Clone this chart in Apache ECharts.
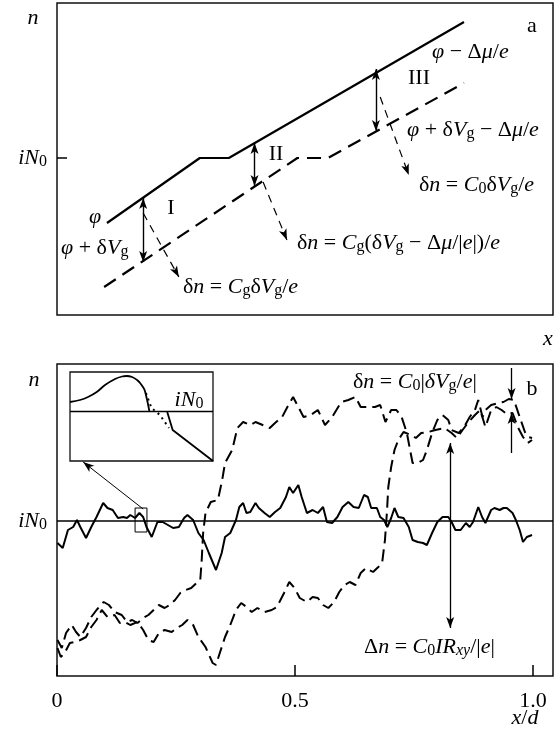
<!DOCTYPE html>
<html><head><meta charset="utf-8">
<script src="https://cdn.jsdelivr.net/npm/echarts@6/dist/echarts.min.js"></script>
<style>html,body{margin:0;padding:0;background:#fff}#c{width:560px;height:731px}</style>
</head><body><div id="c"></div>
<script>
const X_MAX = 1.042;
const IN0 = 0;
// ---------- panel a ----------
const A_SOLID_X = [0.105, 0.300, 0.361, 0.855];
const A_SOLID_Y = [-65, 0, 0, 136];
const A_DASH_X = [0.099, 0.505, 0.569, 0.855];
const A_DASH_Y = [-129, 0, 0, 75];
const A_ARROW_X = [0.181, 0.415, 0.670];
const A_ARROW_TOP = [-40, 15, 89];
const A_ARROW_BOT = [-104, -28, 27];
const A_LEAD_X0 = [0.181, 0.433, 0.679];
const A_LEAD_Y0 = [-55, -24, 61];
const A_LEAD_X1 = [0.256, 0.483, 0.739];
const A_LEAD_Y1 = [-119, -82, -17];
// ---------- panel b ----------
const TICK_VALUES = [0, 0.5, 1.0];
const TICK_LABELS = ['0', '0.5', '1.0'];
const B_SOLID_X = [0.001,0.012,0.023,0.034,0.042,0.049,0.061,0.072,0.083,0.097,
0.106,0.117,0.128,0.139,0.147,0.154,0.164,0.173,0.181,0.188,
0.199,0.211,0.222,0.233,0.244,0.256,0.267,0.274,0.286,0.297,
0.308,0.319,0.334,0.346,0.353,0.364,0.376,0.383,0.391,0.398,
0.406,0.417,0.424,0.436,0.447,0.458,0.469,0.481,0.488,0.496,
0.507,0.514,0.525,0.537,0.548,0.559,0.567,0.578,0.589,0.600,
0.612,0.623,0.634,0.645,0.653,0.660,0.672,0.679,0.687,0.694,
0.702,0.709,0.717,0.728,0.739,0.747,0.758,0.769,0.777,0.788,
0.799,0.810,0.822,0.829,0.837,0.848,0.859,0.867,0.874,0.885,
0.893,0.900,0.912,0.919,0.930,0.938,0.945,0.957,0.964,0.972,
0.979,0.987,0.998];
const B_SOLID_Y = [-22,-27,-9,-6,1,-6,-17,-6,4,18,
13,11,3,4,3,6,3,8,4,-6,
-16,-1,-1,-4,-7,-6,3,6,1,-12,
-19,-32,-49,-32,-16,-12,1,14,18,8,
9,18,13,8,4,9,13,24,34,28,
36,24,8,11,8,14,-1,-2,4,14,
19,14,13,26,24,13,13,4,1,-6,
3,13,4,3,-6,-19,-21,-22,-24,-12,
-1,4,4,-1,-9,-9,-2,-6,-1,14,
4,-2,11,13,11,13,13,8,1,-9,
-21,-16,-14];
const B_UP_X = [0.001,0.010,0.019,0.031,0.040,0.049,0.061,0.072,0.083,0.098,
0.109,0.121,0.136,0.147,0.158,0.169,0.181,0.192,0.203,0.214,
0.226,0.237,0.248,0.259,0.271,0.282,0.293,0.301,0.304,0.307,
0.312,0.323,0.338,0.347,0.353,0.368,0.379,0.391,0.406,0.417,
0.432,0.447,0.458,0.473,0.484,0.496,0.507,0.518,0.533,0.548,
0.563,0.578,0.597,0.612,0.627,0.638,0.653,0.668,0.679,0.690,
0.702,0.713,0.724,0.735,0.743,0.747,0.758,0.769,0.777,0.788,
0.799,0.810,0.822,0.829,0.844,0.855,0.867,0.878,0.885,0.894,
0.900,0.912,0.927,0.938,0.949,0.960,0.972,0.983,0.990,0.998];
const B_UP_Y = [-119,-127,-112,-104,-111,-116,-107,-96,-89,-81,
-84,-91,-94,-101,-99,-102,-97,-94,-89,-84,
-87,-84,-79,-72,-69,-67,-62,-59,-39,-12,
8,19,21,41,58,71,93,99,96,99,
96,93,98,104,114,124,114,104,106,111,
96,104,119,121,124,114,114,114,116,99,
111,111,104,88,68,58,58,61,71,88,
101,106,101,91,88,94,104,111,121,104,
111,116,118,119,122,121,104,89,84,83];
const B_LOW_X = [0.001,0.008,0.016,0.027,0.038,0.049,0.061,0.072,0.083,0.094,
0.106,0.121,0.132,0.143,0.154,0.169,0.181,0.192,0.203,0.214,
0.226,0.241,0.252,0.263,0.274,0.286,0.297,0.312,0.327,0.334,
0.342,0.353,0.364,0.376,0.387,0.398,0.409,0.421,0.436,0.451,
0.462,0.477,0.488,0.499,0.510,0.525,0.537,0.548,0.559,0.570,
0.582,0.593,0.604,0.615,0.627,0.638,0.649,0.664,0.675,0.683,
0.689,0.693,0.696,0.702,0.709,0.717,0.728,0.743,0.754,0.765,
0.780,0.795,0.814,0.829,0.840,0.852,0.863,0.878,0.889,0.900,
0.912,0.923,0.934,0.945,0.957,0.968,0.979,0.989,0.998];
const B_LOW_Y = [-127,-136,-132,-122,-121,-119,-116,-106,-99,-89,
-96,-94,-102,-101,-104,-101,-109,-119,-121,-112,
-109,-111,-107,-104,-99,-104,-116,-126,-142,-144,
-132,-116,-104,-89,-82,-86,-91,-87,-91,-89,
-86,-72,-61,-67,-77,-81,-76,-77,-84,-87,
-81,-71,-64,-61,-64,-52,-47,-51,-46,-42,
-19,8,34,54,71,81,89,86,83,88,
89,91,93,88,83,91,98,106,111,94,
111,114,111,107,108,94,84,78,81];
// arrows in panel b
const DN_X = 0.826, DN_TOP = 78, DN_BOT = -107;          // Delta n
const dn_X = 0.955, dn_TOP = [153, 122], dn_BOT = [68, 108]; // delta n
const ZOOM_BOX_X = [0.164, 0.189], ZOOM_BOX_Y = [13, -11];
const ZOOM_ARROW = [0.181, 12, 0.055, 59];
// inset
const INSET_A_X = [0.0,0.070,0.126,0.187,0.245,0.315,0.364,0.397,0.434,0.469,0.490,0.510,0.524,0.555];
const INSET_A_Y = [9,11,14,19,26,32,34.5,35,34,31,28,24,20,0];
const INSET_B_X = [0.680,0.718,1.0];
const INSET_B_Y = [-1,-19,-50];
const INSET_DOT_X = [0.531,0.570,0.629,0.692];
const INSET_DOT_Y = [18,3,-4,-17];

const SERIF = '"Liberation Serif","DejaVu Serif",serif';
const FS = 22;
const SFS = 16;
const pairs = (xs, ys) => xs.map((x, i) => [x, ys[i]]);
const AH = [6, 11];
function arrow(x0, y0, x1, y1, h0, h1, ls) {
  return [{coord:[x0,y0], symbol:h0?'arrow':'none', symbolSize:AH, lineStyle:ls},
          {coord:[x1,y1], symbol:h1?'arrow':'none', symbolSize:AH}];
}
const ML = {silent:true, animation:false, label:{show:false}, emphasis:{disabled:true}, symbol:['none','none']};

const gRich = {
  i:{font:`italic ${FS}px ${SERIF}`, fill:'#000', lineHeight:24, verticalAlign:'middle'},
  u:{font:`${FS}px ${SERIF}`, fill:'#000', lineHeight:24, verticalAlign:'middle'},
  s:{font:`${SFS}px ${SERIF}`, fill:'#000', lineHeight:12, verticalAlign:'bottom'},
  si:{font:`italic ${SFS}px ${SERIF}`, fill:'#000', lineHeight:12, verticalAlign:'bottom'}
};
const aRich = {
  i:{fontStyle:'italic', fontFamily:SERIF, fontSize:FS, color:'#000', lineHeight:24, verticalAlign:'middle'},
  s:{fontFamily:SERIF, fontSize:SFS, color:'#000', lineHeight:12, verticalAlign:'bottom'}
};

const ANNOT = [
  ['{i|n}', 33, 18, 'center'],
  ['{u|a}', 532, 26, 'center'],
  ['{i|φ}{u| − Δ}{i|μ}{u|/}{i|e}', 432, 52, 'left'],
  ['{u|III}', 419, 78, 'center'],
  ['{i|φ}{u| + δ}{i|V}{s|g}{u| − Δ}{i|μ}{u|/}{i|e}', 407, 130, 'left'],
  ['{u|δ}{i|n}{u| = }{i|C}{s|0}{u|δ}{i|V}{s|g}{u|/}{i|e}', 419, 185, 'left'],
  ['{u|II}', 276, 154, 'center'],
  ['{u|δ}{i|n}{u| = }{i|C}{s|g}{u|(δ}{i|V}{s|g}{u| − Δ}{i|μ}{u|/|}{i|e}{u||)/}{i|e}', 297, 243, 'left'],
  ['{u|I}', 171, 208, 'center'],
  ['{i|φ}', 95, 217, 'center'],
  ['{i|φ}{u| + δ}{i|V}{s|g}', 61, 248, 'left'],
  ['{u|δ}{i|n}{u| = }{i|C}{s|g}{u|δ}{i|V}{s|g}{u|/}{i|e}', 183, 287, 'left'],
  ['{i|x}', 548, 339, 'center'],
  ['{i|n}', 34, 380, 'center'],
  ['{u|b}', 532, 389, 'center'],
  ['{u|δ}{i|n}{u| = }{i|C}{s|0}{u||}{i|δV}{s|g}{u|/}{i|e}{u||}', 353, 382, 'left'],
  ['{u|Δ}{i|n}{u| = }{i|C}{s|0}{i|IR}{si|xy}{u|/|}{i|e}{u||}', 364, 647, 'left'],
  ['{i|iN}{s|0}', 189, 400, 'center'],
  ['{i|x}{u|/}{i|d}', 525, 718, 'center']
];

const chart = echarts.init(document.getElementById('c'), null, {renderer:'canvas'});
const black = '#000';
const hidden = {show:false};
const option = {
  animation:false,
  backgroundColor:'#fff',
  grid:[
    {left:57, top:3, width:496, height:312, show:true, borderColor:'#111', borderWidth:1.5, backgroundColor:'transparent'},
    {left:57, top:364, width:496, height:312, show:true, borderColor:'#111', borderWidth:1.5, backgroundColor:'transparent'},
    {left:70, top:372, width:143, height:89, show:true, borderColor:'#111', borderWidth:1.3, backgroundColor:'#fff'}
  ],
  xAxis:[
    {gridIndex:0, type:'value', min:0, max:X_MAX, show:false},
    {gridIndex:1, type:'value', min:0, max:X_MAX, position:'bottom', axisLine:{show:false, onZero:false}, splitLine:hidden,
      axisTick:{show:true, inside:true, length:11, customValues:TICK_VALUES, lineStyle:{color:black, width:1.5}},
      axisLabel:{show:true, customValues:TICK_VALUES, margin:14, fontFamily:SERIF, fontSize:FS, color:black,
        formatter:(v)=>{const k = TICK_VALUES.findIndex(t=>Math.abs(t-v)<1e-6); return k<0?'':TICK_LABELS[k];}}},
    {gridIndex:2, type:'value', min:0, max:1, show:false}
  ],
  yAxis:[
    {gridIndex:0, type:'value', min:-157, max:155, axisLine:{show:false, onZero:false}, splitLine:hidden,
      axisTick:{show:true, inside:true, length:10, customValues:[IN0], lineStyle:{color:black, width:1.5}},
      axisLabel:{show:true, customValues:[IN0], margin:10, formatter:()=>'{i|iN}{s|0}', rich:aRich}},
    {gridIndex:1, type:'value', min:-155, max:157, axisLine:{show:false, onZero:false}, splitLine:hidden, axisTick:hidden,
      axisLabel:{show:true, customValues:[IN0], margin:10, formatter:()=>'{i|iN}{s|0}', rich:aRich}},
    {gridIndex:2, type:'value', min:-50, max:39, show:false}
  ],
  series:[
    {type:'line', xAxisIndex:0, yAxisIndex:0, data:pairs(A_SOLID_X, A_SOLID_Y), symbol:'none', silent:true,
      lineStyle:{color:black, width:2.2},
      markLine:Object.assign({}, ML, {lineStyle:{color:black, width:1.4, type:'solid'},
        data:A_ARROW_X.map((x,i)=>arrow(x, A_ARROW_TOP[i], x, A_ARROW_BOT[i], true, true))})},
    {type:'line', xAxisIndex:0, yAxisIndex:0, data:pairs(A_DASH_X, A_DASH_Y), symbol:'none', silent:true,
      lineStyle:{color:black, width:2.2, type:[14,8]},
      markLine:Object.assign({}, ML, {lineStyle:{color:black, width:1.2, type:[8,6]},
        data:A_LEAD_X0.map((x,i)=>arrow(x, A_LEAD_Y0[i], A_LEAD_X1[i], A_LEAD_Y1[i], false, true))})},
    {type:'line', xAxisIndex:1, yAxisIndex:1, data:pairs(B_SOLID_X, B_SOLID_Y), symbol:'none', silent:true,
      lineStyle:{color:black, width:2},
      markArea:{silent:true, itemStyle:{color:'rgba(0,0,0,0)', borderColor:black, borderWidth:1}, label:{show:false},
        data:[[{coord:[ZOOM_BOX_X[0], ZOOM_BOX_Y[0]]},{coord:[ZOOM_BOX_X[1], ZOOM_BOX_Y[1]]}]]},
      markLine:Object.assign({}, ML, {lineStyle:{color:black, width:1.3, type:'solid'},
        data:[
          [{coord:[0, IN0], symbol:'none', lineStyle:{width:1.5}},{coord:[X_MAX, IN0], symbol:'none'}],
          arrow(DN_X, DN_TOP, DN_X, DN_BOT, true, true),
          arrow(dn_X, dn_TOP[0], dn_X, dn_TOP[1], false, true),
          arrow(dn_X, dn_BOT[0], dn_X, dn_BOT[1], false, true),
          arrow(ZOOM_ARROW[0], ZOOM_ARROW[1], ZOOM_ARROW[2], ZOOM_ARROW[3], false, true, {width:1})
        ]})},
    {type:'line', xAxisIndex:1, yAxisIndex:1, data:pairs(B_UP_X, B_UP_Y), symbol:'none', silent:true,
      lineStyle:{color:black, width:2, type:[12,6]}},
    {type:'line', xAxisIndex:1, yAxisIndex:1, data:pairs(B_LOW_X, B_LOW_Y), symbol:'none', silent:true,
      lineStyle:{color:black, width:2, type:[12,6]}},
    {type:'line', xAxisIndex:2, yAxisIndex:2, data:pairs(INSET_A_X, INSET_A_Y), symbol:'none', silent:true, smooth:0.4,
      lineStyle:{color:black, width:1.8},
      markLine:Object.assign({}, ML, {lineStyle:{color:black, width:1.3, type:'solid'},
        data:[[{coord:[0, IN0]},{coord:[1, IN0]}]]})},
    {type:'line', xAxisIndex:2, yAxisIndex:2, data:pairs(INSET_B_X, INSET_B_Y), symbol:'none', silent:true,
      lineStyle:{color:black, width:1.8}},
    {type:'line', xAxisIndex:2, yAxisIndex:2, data:pairs(INSET_DOT_X, INSET_DOT_Y), symbol:'none', silent:true,
      lineStyle:{color:black, width:2, type:[2,4]}}
  ],
  graphic:ANNOT.map(a=>({type:'text', x:a[1], y:a[2], z:100, silent:true,
    style:{text:a[0], rich:gRich, align:a[3], verticalAlign:'middle', textAlign:a[3], textVerticalAlign:'middle', font:`${FS}px ${SERIF}`, fill:black}}))
};
chart.setOption(option);
</script>
</body></html>
